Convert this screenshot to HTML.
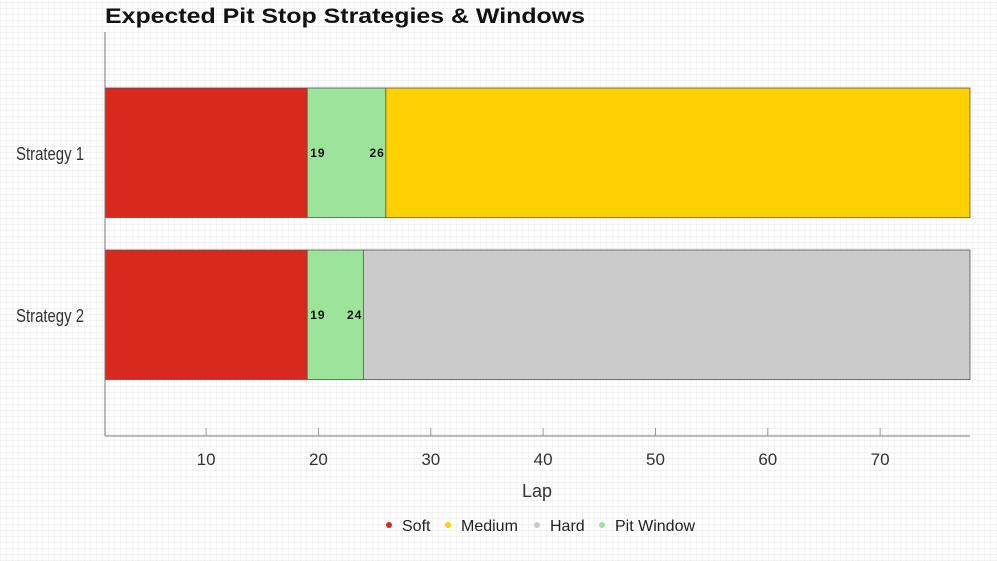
<!DOCTYPE html>
<html><head><meta charset="utf-8"><style>
html,body{margin:0;padding:0;}
body{width:997px;height:561px;overflow:hidden;background:#fff;
background-image:repeating-linear-gradient(0deg,rgba(0,0,0,0.05) 0 1px,transparent 1px 6px),repeating-linear-gradient(90deg,rgba(0,0,0,0.04) 0 1px,transparent 1px 6px);
font-family:"Liberation Sans","DejaVu Sans",sans-serif;}
svg{position:absolute;left:0;top:0;}
</style></head><body>
<svg width="997" height="561">
<text x="105" y="23" font-size="21" font-weight="bold" fill="#111" textLength="480" lengthAdjust="spacingAndGlyphs">Expected Pit Stop Strategies &amp; Windows</text>
<g id="bars"></g>
<g id="axes"></g>
<g id="legend"></g>
</svg>
<script>
const strategies = ["Strategy 1","Strategy 2"];
const softEnd = [19,19];
const pitEnd = [26,24];
const raceEnd = [78,78];
const finalCompound = ["Medium","Hard"];
const xTicks = [10,20,30,40,50,60,70];
const legendLabels = ["Soft","Medium","Hard","Pit Window"];
const colors = {Soft:"#d9281e",Medium:"#ffd100","Hard":"#cbcbcb","Pit Window":"#9be49a"};
const xMin=1,xMax=78,px0=105,px1=970;
const X=v=>px0+(v-xMin)/(xMax-xMin)*(px1-px0);
const rowTop=[88,250],rowH=129.5;
const NS="http://www.w3.org/2000/svg";
function mk(t,a,p){const e=document.createElementNS(NS,t);for(const k in a)e.setAttribute(k,a[k]);p.appendChild(e);return e;}
const bars=document.getElementById('bars'),axes=document.getElementById('axes'),leg=document.getElementById('legend');
strategies.forEach((s,i)=>{
  const y=rowTop[i];
  const segs=[[xMin,softEnd[i],colors.Soft,'soft'],[softEnd[i],pitEnd[i],colors["Pit Window"],'pit-window'],[pitEnd[i],raceEnd[i],colors[finalCompound[i]],finalCompound[i].toLowerCase()]];
  segs.forEach(sg=>{
    const r=mk('rect',{x:X(sg[0]),y:y,width:X(sg[1])-X(sg[0]),height:rowH,fill:sg[2],stroke:'#555','stroke-width':0.8},bars);
    
    
  });
  const t1=mk('text',{x:X(softEnd[i])+3,y:y+rowH/2+4,'font-size':12,'font-weight':'bold',fill:'#111','letter-spacing':1},bars);
  t1.textContent=softEnd[i];
  
  
  const t2=mk('text',{x:X(pitEnd[i])-1,y:y+rowH/2+4,'font-size':12,'font-weight':'bold',fill:'#111','text-anchor':'end','letter-spacing':1},bars);
  t2.textContent=pitEnd[i];
  
  
  const yl=mk('text',{x:16,y:y+rowH/2+7,'font-size':18,fill:'#333',textLength:68,lengthAdjust:'spacingAndGlyphs'},axes);
  yl.textContent=s;
  
  
});
const ya=mk('line',{x1:105,y1:32,x2:105,y2:436,stroke:'#777','stroke-width':1},axes);


const xa=mk('line',{x1:105,y1:436,x2:970,y2:436,stroke:'#777','stroke-width':1},axes);


xTicks.forEach(v=>{
  const tk=mk('line',{x1:X(v),y1:428,x2:X(v),y2:436,stroke:'#999'},axes);
  
  
  const tl=mk('text',{x:X(v),y:465,'font-size':17,fill:'#333','text-anchor':'middle'},axes);
  tl.textContent=v;
  
  
});
const xt=mk('text',{x:537,y:497,'font-size':18,fill:'#333','text-anchor':'middle'},axes);
xt.textContent='Lap';


const lx=[389,448,537,602];
legendLabels.forEach((l,i)=>{
  const g=mk('g',{},leg);
  
  
  mk('circle',{cx:lx[i],cy:525,r:3,fill:colors[l]},g);
  const t=mk('text',{x:lx[i]+13,y:531,'font-size':16,fill:'#222'},g);
  t.textContent=l;
});
</script>
</body></html>
